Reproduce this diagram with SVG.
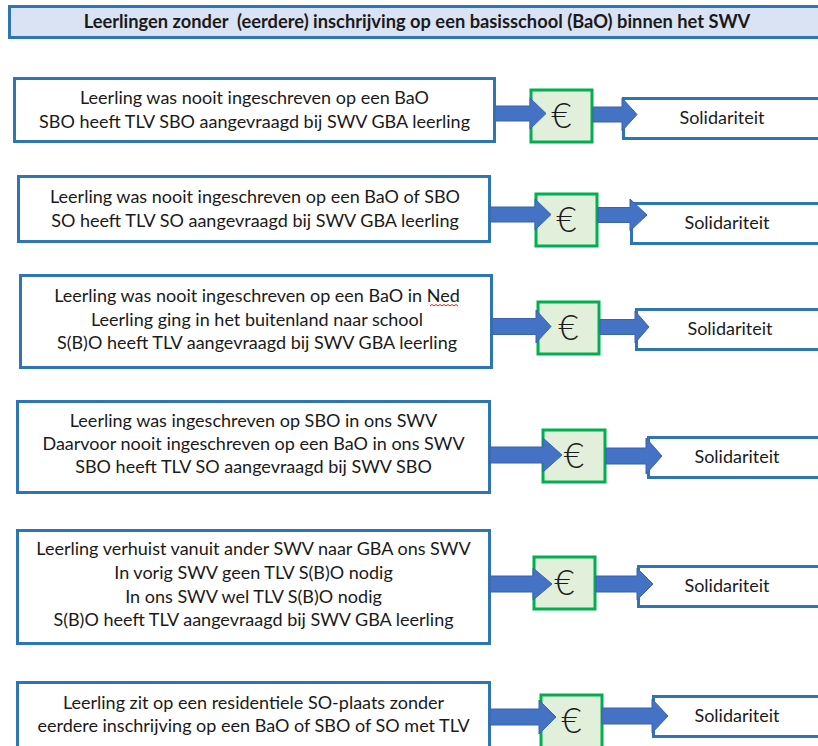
<svg xmlns="http://www.w3.org/2000/svg" width="818" height="746" viewBox="0 0 818 746">
<defs>
<style>
.bg{fill:#ffffff}
.title{fill:#dae3f3;stroke:#2e75b6;stroke-width:3}
.tt{font-family:Lato,"Liberation Sans",sans-serif;font-size:18.3px;font-weight:bold;fill:#1a1a1a;text-anchor:middle;white-space:pre}
.box{fill:#ffffff;stroke:#2e75b6;stroke-width:3}
.eur{fill:#e2efda;stroke:#00b050;stroke-width:3}
.arr{fill:#4472c4;stroke:#3a62ad;stroke-width:1}
.t{font-family:Lato,"Liberation Sans",sans-serif;font-size:18px;fill:#1a1a1a;text-anchor:middle}
.e{font-family:Lato,"Liberation Sans",sans-serif;font-size:35px;font-weight:300;fill:#1a1a1a;text-anchor:middle}
.sq{fill:none;stroke:#e02020;stroke-width:1}
</style>
</defs>
<rect class="bg" x="0" y="0" width="818" height="746"/>
<g id="title">
<rect class="title" x="9.5" y="6.5" width="820" height="31"/>
<text class="tt" x="417" y="28">Leerlingen zonder  (eerdere) inschrijving op een basisschool (BaO) binnen het SWV</text>
</g>

<g id="row1">
<g id="r1-case"><rect class="box" x="14.5" y="78.5" width="480" height="63"/>
<text class="t" x="254.5" y="104">Leerling was nooit ingeschreven op een BaO</text>
<text class="t" x="254.5" y="128">SBO heeft TLV SBO aangevraagd bij SWV GBA leerling</text></g>
<g id="r1-euro"><rect class="eur" x="531" y="90" width="61" height="52"/><text class="e" x="561.5" y="128">€</text></g>
<g id="r1-sol"><rect class="box" x="623.5" y="98.5" width="210" height="40"/><text class="t" x="722" y="124">Solidariteit</text></g>
</g>

<g id="row2">
<g id="r2-case"><rect class="box" x="18.5" y="176.5" width="471" height="65"/>
<text class="t" x="255" y="203">Leerling was nooit ingeschreven op een BaO of SBO</text>
<text class="t" x="255" y="227">SO heeft TLV SO aangevraagd bij SWV GBA leerling</text></g>
<g id="r2-euro"><rect class="eur" x="536" y="194" width="61" height="52"/><text class="e" x="566.5" y="232">€</text></g>
<g id="r2-sol"><rect class="box" x="631.5" y="203.5" width="200" height="40"/><text class="t" x="727" y="229">Solidariteit</text></g>
</g>

<g id="row3">
<g id="r3-case"><rect class="box" x="20.5" y="275.5" width="471" height="92"/>
<text class="t" x="257" y="302">Leerling was nooit ingeschreven op een BaO in Ned</text>
<text class="t" x="257" y="326">Leerling ging in het buitenland naar school</text>
<text class="t" x="257" y="349">S(B)O heeft TLV aangevraagd bij SWV GBA leerling</text>
<path class="sq" d="M430 306 l2 -1.5 l2 1.5 l2 -1.5 l2 1.5 l2 -1.5 l2 1.5 l2 -1.5 l2 1.5 l2 -1.5 l2 1.5 l2 -1.5 l2 1.5 l2 -1.5 l2 1.5"/></g>
<g id="r3-euro"><rect class="eur" x="538" y="302" width="61" height="52"/><text class="e" x="568.5" y="340">€</text></g>
<g id="r3-sol"><rect class="box" x="636.5" y="309.5" width="200" height="40"/><text class="t" x="730" y="335">Solidariteit</text></g>
</g>

<g id="row4">
<g id="r4-case"><rect class="box" x="17.5" y="401.5" width="472" height="91"/>
<text class="t" x="253.5" y="427">Leerling was ingeschreven op SBO in ons SWV</text>
<text class="t" x="253.5" y="450">Daarvoor nooit ingeschreven op een BaO in ons SWV</text>
<text class="t" x="253.5" y="473">SBO heeft TLV SO aangevraagd bij SWV SBO</text></g>
<g id="r4-euro"><rect class="eur" x="543" y="430" width="62" height="52"/><text class="e" x="574" y="468">€</text></g>
<g id="r4-sol"><rect class="box" x="648.5" y="437.5" width="200" height="40"/><text class="t" x="737" y="463">Solidariteit</text></g>
</g>

<g id="row5">
<g id="r5-case"><rect class="box" x="17.5" y="530.5" width="472" height="113"/>
<text class="t" x="253.5" y="555">Leerling verhuist vanuit ander SWV naar GBA ons SWV</text>
<text class="t" x="253.5" y="579">In vorig SWV geen TLV S(B)O nodig</text>
<text class="t" x="253.5" y="603">In ons SWV wel TLV S(B)O nodig</text>
<text class="t" x="253.5" y="626">S(B)O heeft TLV aangevraagd bij SWV GBA leerling</text></g>
<g id="r5-euro"><rect class="eur" x="534" y="557" width="61" height="52"/><text class="e" x="564.5" y="595">€</text></g>
<g id="r5-sol"><rect class="box" x="638.5" y="566.5" width="200" height="40"/><text class="t" x="727" y="592">Solidariteit</text></g>
</g>

<g id="row6">
<g id="r6-case"><rect class="box" x="17.5" y="682.5" width="472" height="80"/>
<text class="t" x="253.5" y="709">Leerling zit op een residentiele SO-plaats zonder</text>
<text class="t" x="253.5" y="732">eerdere inschrijving op een BaO of SBO of SO met TLV</text></g>
<g id="r6-euro"><rect class="eur" x="541" y="695" width="61" height="60"/><text class="e" x="571.5" y="733">€</text></g>
<g id="r6-sol"><rect class="box" x="653.5" y="696.5" width="200" height="40"/><text class="t" x="737" y="722">Solidariteit</text></g>
</g>

<g id="connectors">
<polygon class="arr" points="495,106 530,106 530,98 546,113.5 530,129 530,121 495,121"/>
<polygon class="arr" points="593,107 622,107 622,98 637,114.5 622,131 622,122 593,122"/>
<polygon class="arr" points="490,207 535,207 535,199 551,214.5 535,230 535,222 490,222"/>
<polygon class="arr" points="598,207.5 630,207.5 630,199 647,215 630,231 630,222.5 598,222.5"/>
<polygon class="arr" points="492,318.5 536,318.5 536,310 551,326.5 536,343 536,334.5 492,334.5"/>
<polygon class="arr" points="600,319.5 635,319.5 635,311 649,327 635,343 635,334.5 600,334.5"/>
<polygon class="arr" points="490,447 543,447 543,438 562,455 543,472 543,463 490,463"/>
<polygon class="arr" points="606,448 646,448 646,438 662,456 646,474 646,464 606,464"/>
<polygon class="arr" points="490,576 533,576 533,568 552,584 533,600 533,592 490,592"/>
<polygon class="arr" points="596,576 637,576 637,568 653,584 637,600 637,592 596,592"/>
<polygon class="arr" points="490,709 539,709 539,700 556,717 539,734 539,725 490,725"/>
<polygon class="arr" points="602,708 652,708 652,699 668,716 652,733 652,724 602,724"/>
</g>
</svg>
